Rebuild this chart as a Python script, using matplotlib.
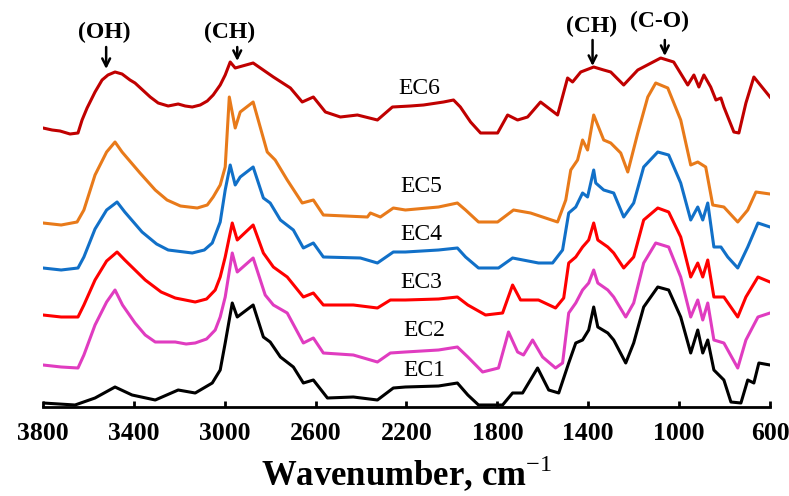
import numpy as np
import matplotlib.pyplot as plt

# FTIR spectra of the EC samples (offset absorbance, arbitrary units)
wn_ec6 = [3800, 3760, 3725, 3681, 3646, 3628, 3606, 3571, 3540, 3514, 3483, 3452, 3417, 3395,
          3328, 3293, 3249, 3205, 3174, 3143, 3108, 3077, 3051, 3020, 2998, 2976, 2954,
          2875, 2786, 2711, 2659, 2610, 2557, 2491, 2416, 2328, 2262, 2183, 2125, 2037, 1993,
          1963, 1918, 1874, 1799,
          1755, 1711, 1667, 1610, 1535, 1491, 1469, 1433, 1376, 1332, 1301, 1244, 1182, 1081,
          1024, 962, 935, 913, 891, 861, 838, 816, 803, 759, 737, 706, 671, 600]
ab_ec6 = [2.79, 2.77, 2.76, 2.73, 2.74, 2.87, 2.99, 3.15, 3.27, 3.32, 3.35, 3.33, 3.27, 3.24,
          3.10, 3.04, 3.01, 3.03, 3.01, 3.00, 3.02, 3.06, 3.12, 3.22, 3.32, 3.45, 3.39,
          3.44, 3.30, 3.19, 3.05, 3.10, 2.95, 2.90, 2.92, 2.87, 3.00, 3.01, 3.02, 3.05, 3.07,
          3.00, 2.85, 2.74, 2.74,
          2.92, 2.87, 2.90, 3.05, 2.92, 3.29, 3.25, 3.35, 3.40, 3.37, 3.35, 3.22, 3.37, 3.49,
          3.45, 3.22, 3.32, 3.20, 3.32, 3.20, 3.07, 3.09, 3.00, 2.75, 2.74, 3.04, 3.30, 3.10]

wn_ec5 = [3800, 3720, 3650, 3620, 3571, 3520, 3483, 3452, 3373, 3306, 3254, 3195, 3121, 3077,
          3051, 3020, 2998, 2980, 2954, 2932, 2875, 2844, 2813,
          2778, 2725, 2659, 2610, 2566, 2372, 2359, 2315, 2258, 2205, 2059, 1976, 1940, 1883,
          1799, 1729, 1654,
          1535, 1499, 1477, 1447, 1425, 1403, 1376, 1332, 1301, 1257, 1226, 1182, 1138, 1103,
          1050, 993, 949, 918, 883, 852, 803, 742, 698, 662, 600]
ab_ec5 = [1.84, 1.82, 1.85, 1.97, 2.32, 2.55, 2.65, 2.55, 2.34, 2.17, 2.07, 2.01, 1.99, 2.02,
          2.10, 2.22, 2.40, 3.10, 2.79, 2.95, 3.05, 2.80, 2.55,
          2.47, 2.27, 2.04, 2.07, 1.92, 1.90, 1.94, 1.90, 1.99, 1.97, 2.00, 2.04, 1.97, 1.85,
          1.85, 1.97, 1.94,
          1.85, 2.07, 2.37, 2.47, 2.67, 2.57, 2.92, 2.67, 2.64, 2.54, 2.35, 2.74, 3.10, 3.24,
          3.19, 2.87, 2.42, 2.45, 2.40, 2.02, 2.00, 1.85, 1.97, 2.15, 2.13]

wn_ec4 = [3800, 3720, 3646, 3620, 3571, 3520, 3474, 3440, 3364, 3300, 3249, 3143, 3090, 3055,
          3020, 2998, 2976, 2954, 2932, 2875, 2830, 2800,
          2755, 2698, 2654, 2610, 2566, 2403, 2328, 2258, 2205, 2059, 1976, 1940, 1883, 1795,
          1733, 1619, 1557,
          1513, 1486, 1455, 1425, 1403, 1376, 1367, 1332, 1288, 1244, 1200, 1156, 1094, 1046,
          993, 949, 918, 896, 874, 847, 816, 786, 742, 698, 653, 600]
ab_ec4 = [1.39, 1.37, 1.39, 1.50, 1.78, 1.97, 2.05, 1.95, 1.75, 1.63, 1.57, 1.54, 1.57, 1.64,
          1.85, 2.17, 2.42, 2.22, 2.30, 2.40, 2.09, 2.04,
          1.87, 1.77, 1.59, 1.64, 1.50, 1.49, 1.44, 1.55, 1.55, 1.57, 1.59, 1.50, 1.39, 1.39,
          1.49, 1.44, 1.44,
          1.57, 1.94, 2.00, 2.14, 2.10, 2.37, 2.24, 2.17, 2.14, 1.90, 2.04, 2.40, 2.55, 2.52,
          2.24, 1.87, 2.00, 1.87, 2.04, 1.60, 1.60, 1.50, 1.39, 1.60, 1.84, 1.80]

wn_ec3 = [3800, 3720, 3646, 3620, 3571, 3520, 3474, 3440, 3350, 3280, 3218, 3130, 3080, 3042,
          3020, 2998, 2967, 2945, 2875, 2830, 2786, 2725,
          2654, 2610, 2566, 2434, 2328, 2271, 2205, 2059, 1976, 1930, 1852, 1777, 1733, 1698,
          1619, 1544, 1508,
          1486, 1455, 1425, 1398, 1376, 1358, 1314, 1288, 1244, 1200, 1156, 1094, 1046, 993,
          949, 918, 896, 874, 847, 803, 742, 706, 653, 600]
ab_ec3 = [0.92, 0.90, 0.90, 1.02, 1.27, 1.46, 1.55, 1.47, 1.27, 1.15, 1.09, 1.05, 1.08, 1.17,
          1.30, 1.50, 1.84, 1.67, 1.82, 1.54, 1.40, 1.30,
          1.10, 1.14, 1.02, 1.02, 0.99, 1.07, 1.07, 1.08, 1.10, 1.02, 0.92, 0.94, 1.22, 1.07,
          1.07, 0.99, 1.09,
          1.44, 1.50, 1.60, 1.67, 1.84, 1.67, 1.60, 1.54, 1.39, 1.50, 1.87, 1.99, 1.95, 1.70,
          1.30, 1.44, 1.30, 1.47, 1.10, 1.10, 0.90, 1.10, 1.30, 1.25]

wn_ec2 = [3800, 3720, 3646, 3620, 3571, 3520, 3483, 3450, 3395, 3350, 3306, 3218, 3170, 3130,
          3080, 3042, 3020, 2998, 2967, 2945, 2875, 2822, 2786,
          2725, 2654, 2610, 2566, 2434, 2328, 2271, 2205, 2059, 1976, 1930, 1865, 1795, 1751,
          1711, 1685, 1645,
          1601, 1544, 1513, 1486, 1455, 1425, 1398, 1376, 1358, 1314, 1288, 1235, 1200, 1156,
          1103, 1046, 993, 949, 918, 896, 874, 847, 803, 742, 706, 653, 600]
ab_ec2 = [0.42, 0.40, 0.39, 0.52, 0.82, 1.05, 1.17, 1.02, 0.84, 0.72, 0.65, 0.65, 0.63, 0.64,
          0.68, 0.77, 0.90, 1.10, 1.54, 1.35, 1.49, 1.12, 1.02,
          0.94, 0.64, 0.69, 0.54, 0.52, 0.45, 0.54, 0.55, 0.57, 0.60, 0.50, 0.35, 0.39, 0.75,
          0.55, 0.52, 0.67,
          0.50, 0.39, 0.44, 0.94, 1.04, 1.17, 1.24, 1.37, 1.24, 1.17, 1.10, 0.90, 1.04, 1.44,
          1.64, 1.60, 1.30, 0.90, 1.07, 0.87, 1.04, 0.67, 0.64, 0.39, 0.67, 0.90, 0.94]

wn_ec1 = [3800, 3659, 3571, 3483, 3408, 3306, 3205, 3130, 3055, 3020, 2998, 2967, 2945, 2875,
          2830, 2800, 2755, 2698, 2654, 2610, 2548, 2434, 2328, 2258, 2205, 2059, 1976, 1930,
          1883, 1777, 1733,
          1689, 1623, 1574, 1530, 1486, 1455, 1425, 1398, 1376, 1358, 1314, 1288, 1235, 1200,
          1156, 1094, 1046, 993, 949, 918, 896, 874, 847, 803, 772, 728, 698, 671, 649, 600]
ab_ec1 = [0.04, 0.02, 0.09, 0.20, 0.12, 0.07, 0.17, 0.14, 0.24, 0.37, 0.64, 1.04, 0.90, 1.02,
          0.70, 0.65, 0.50, 0.40, 0.24, 0.27, 0.09, 0.10, 0.07, 0.19, 0.20, 0.21, 0.24, 0.12,
          0.02, 0.02, 0.14,
          0.14, 0.39, 0.17, 0.14, 0.44, 0.64, 0.67, 0.77, 1.00, 0.80, 0.74, 0.67, 0.44, 0.64,
          1.00, 1.20, 1.17, 0.90, 0.54, 0.77, 0.54, 0.67, 0.37, 0.27, 0.05, 0.04, 0.27, 0.24,
          0.44, 0.42]

names = ['EC1', 'EC2', 'EC3', 'EC4', 'EC5', 'EC6']
colors = ['#000000', '#E03CC0', '#FF0000', '#1170C8', '#E87A1A', '#C00000']
label_pos = [(2214, 0.37), (2214, 0.76), (2227, 1.24), (2227, 1.73), (2227, 2.20), (2236, 3.19)]

# band assignments: (label, text x, text y, arrow x, arrow tail y, arrow tip y)
bands = [('(OH)', 3531, 3.75, 3522, 3.60, 3.38),
         ('(CH)', 2980, 3.75, 2945, 3.60, 3.46),
         ('(CH)', 1385, 3.81, 1381, 3.67, 3.41),
         ('(C-O)', 1085, 3.86, 1063, 3.67, 3.51)]

plt.rcParams['font.family'] = 'Liberation Serif'
plt.rcParams['mathtext.fontset'] = 'custom'
plt.rcParams['mathtext.rm'] = 'Liberation Serif'

fig = plt.figure(figsize=(7.89, 4.96), dpi=100)
ax = fig.add_axes([43 / 789, 89 / 496, 727 / 789, 407 / 496])

series = [(wn_ec1, ab_ec1), (wn_ec2, ab_ec2), (wn_ec3, ab_ec3),
          (wn_ec4, ab_ec4), (wn_ec5, ab_ec5), (wn_ec6, ab_ec6)]
for (wn, ab), c in zip(series, colors):
    ax.plot(wn, ab, color=c, lw=2.2, solid_joinstyle='round')

for name, (x, y) in zip(names, label_pos):
    ax.text(x, y, name, fontsize=17, ha='left', va='center')

for lab, tx, ty, axx, y0, y1 in bands:
    ax.text(tx, ty, lab, fontsize=17, fontweight='bold', ha='center', va='center')
    ax.annotate('', xy=(axx, y1), xytext=(axx, y0),
                arrowprops=dict(arrowstyle='->', lw=1.8, color='black',
                                mutation_scale=14, shrinkA=0, shrinkB=0))

ax.set_xlim(3800, 600)
ax.set_ylim(0, 4.07)
ax.set_xticks(np.arange(3800, 599, -400))
ax.set_yticks([])
for s in ['top', 'right', 'left']:
    ax.spines[s].set_visible(False)
ax.spines['bottom'].set_linewidth(2)
ax.tick_params(axis='x', direction='in', length=4, width=2, pad=11, labelsize=18.5)
for t in ax.get_xticklabels():
    t.set_fontweight('bold')
ax.set_xlabel('Wavenumber, cm$^{-1}$', fontsize=25, fontweight='bold', labelpad=6)

fig.savefig('out.png', dpi=100)
